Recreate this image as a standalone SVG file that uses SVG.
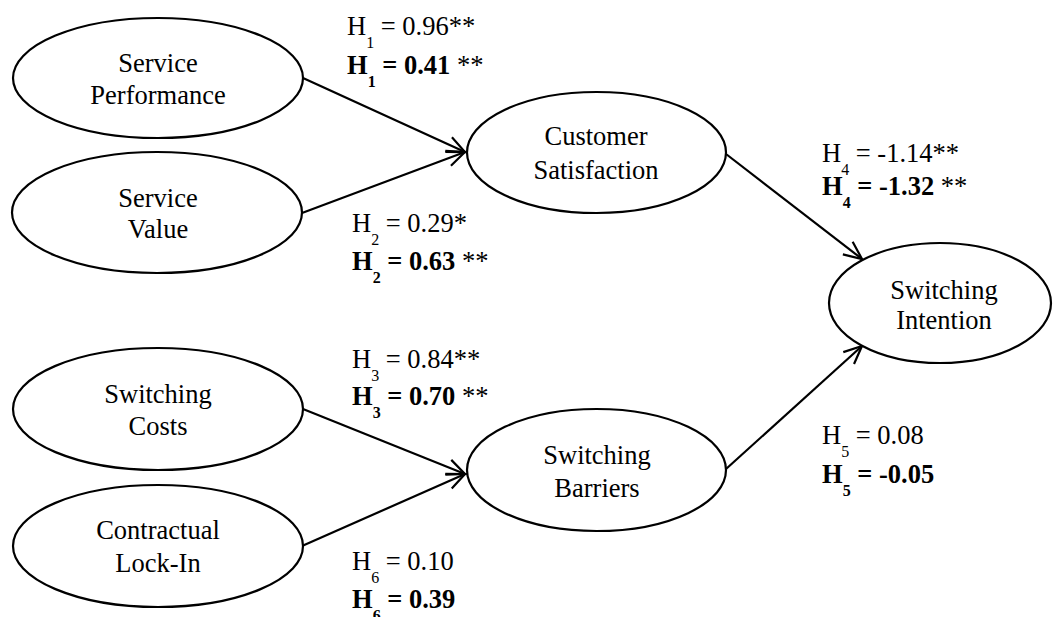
<svg xmlns="http://www.w3.org/2000/svg" width="1053" height="617" viewBox="0 0 1053 617">
<style>
.node ellipse{fill:#fff;stroke:#000;stroke-width:2.2}
.nt{font-family:"Liberation Serif","Times New Roman",serif;font-size:26.5px;text-anchor:middle;fill:#000}
.lb{font-family:"Liberation Serif","Times New Roman",serif;font-size:26.5px;fill:#000}
.b{font-weight:bold}
.n{font-weight:normal}
.sub{font-size:16px}
.edge{stroke:#000;stroke-width:2.2;fill:none;marker-end:url(#arr)}
</style>
<defs>
<marker id="arr" markerUnits="userSpaceOnUse" markerWidth="22" markerHeight="20" viewBox="0 0 22 20" refX="20" refY="10" orient="auto">
<path d="M2,2 L20,10 L2,18" fill="none" stroke="#000" stroke-width="2.2"/>
</marker>
</defs>
<rect width="1053" height="617" fill="#fff"/>
<g id="connectors">
<line class="edge" x1="303" y1="78" x2="465" y2="152"/>
<line class="edge" x1="302" y1="213" x2="465" y2="152"/>
<line class="edge" x1="303" y1="409" x2="465" y2="474"/>
<line class="edge" x1="302" y1="546" x2="465" y2="474"/>
<line class="edge" x1="726" y1="154" x2="862" y2="259"/>
<line class="edge" x1="726" y1="469" x2="862" y2="346"/>
</g>
<g id="service-performance" class="node">
<ellipse cx="158" cy="78" rx="145" ry="60"/>
<text class="nt" x="158" y="72">Service</text>
<text class="nt" x="158" y="104">Performance</text>
</g>
<g id="service-value" class="node">
<ellipse cx="157" cy="212.5" rx="145" ry="60.5"/>
<text class="nt" x="158" y="207">Service</text>
<text class="nt" x="158" y="238">Value</text>
</g>
<g id="switching-costs" class="node">
<ellipse cx="158" cy="409" rx="145" ry="61"/>
<text class="nt" x="158" y="403">Switching</text>
<text class="nt" x="158" y="435">Costs</text>
</g>
<g id="contractual-lock-in" class="node">
<ellipse cx="158" cy="546" rx="145" ry="61"/>
<text class="nt" x="158" y="539">Contractual</text>
<text class="nt" x="158" y="572">Lock-In</text>
</g>
<g id="customer-satisfaction" class="node">
<ellipse cx="596.5" cy="152.5" rx="129.5" ry="60.5"/>
<text class="nt" x="596" y="145">Customer</text>
<text class="nt" x="596" y="179">Satisfaction</text>
</g>
<g id="switching-barriers" class="node">
<ellipse cx="596.5" cy="470" rx="129.5" ry="61"/>
<text class="nt" x="597" y="464">Switching</text>
<text class="nt" x="597" y="497">Barriers</text>
</g>
<g id="switching-intention" class="node">
<ellipse cx="940" cy="303" rx="111" ry="60"/>
<text class="nt" x="944" y="299">Switching</text>
<text class="nt" x="944" y="329">Intention</text>
</g>
<g id="labels">
<text class="lb" x="347" y="35">H<tspan class="sub" dy="13">1</tspan><tspan dy="-13"> = 0.96**</tspan></text>
<text class="lb b" x="347" y="74">H<tspan class="sub" dy="13">1</tspan><tspan dy="-13"> = 0.41</tspan><tspan class="n"> **</tspan></text>
<text class="lb" x="352" y="232">H<tspan class="sub" dy="13">2</tspan><tspan dy="-13"> = 0.29*</tspan></text>
<text class="lb b" x="352" y="270">H<tspan class="sub" dy="13">2</tspan><tspan dy="-13"> = 0.63</tspan><tspan class="n"> **</tspan></text>
<text class="lb" x="352" y="368">H<tspan class="sub" dy="13">3</tspan><tspan dy="-13"> = 0.84**</tspan></text>
<text class="lb b" x="352" y="405">H<tspan class="sub" dy="13">3</tspan><tspan dy="-13"> = 0.70</tspan><tspan class="n"> **</tspan></text>
<text class="lb" x="352" y="570">H<tspan class="sub" dy="13">6</tspan><tspan dy="-13"> = 0.10</tspan></text>
<text class="lb b" x="352" y="608">H<tspan class="sub" dy="13">6</tspan><tspan dy="-13"> = 0.39</tspan></text>
<text class="lb" x="822" y="162">H<tspan class="sub" dy="13">4</tspan><tspan dy="-13"> = -1.14**</tspan></text>
<text class="lb b" x="822" y="195">H<tspan class="sub" dy="13">4</tspan><tspan dy="-13"> = -1.32</tspan><tspan class="n"> **</tspan></text>
<text class="lb" x="822" y="444">H<tspan class="sub" dy="13">5</tspan><tspan dy="-13"> = 0.08</tspan></text>
<text class="lb b" x="822" y="483">H<tspan class="sub" dy="13">5</tspan><tspan dy="-13"> = -0.05</tspan></text>
</g>
</svg>
